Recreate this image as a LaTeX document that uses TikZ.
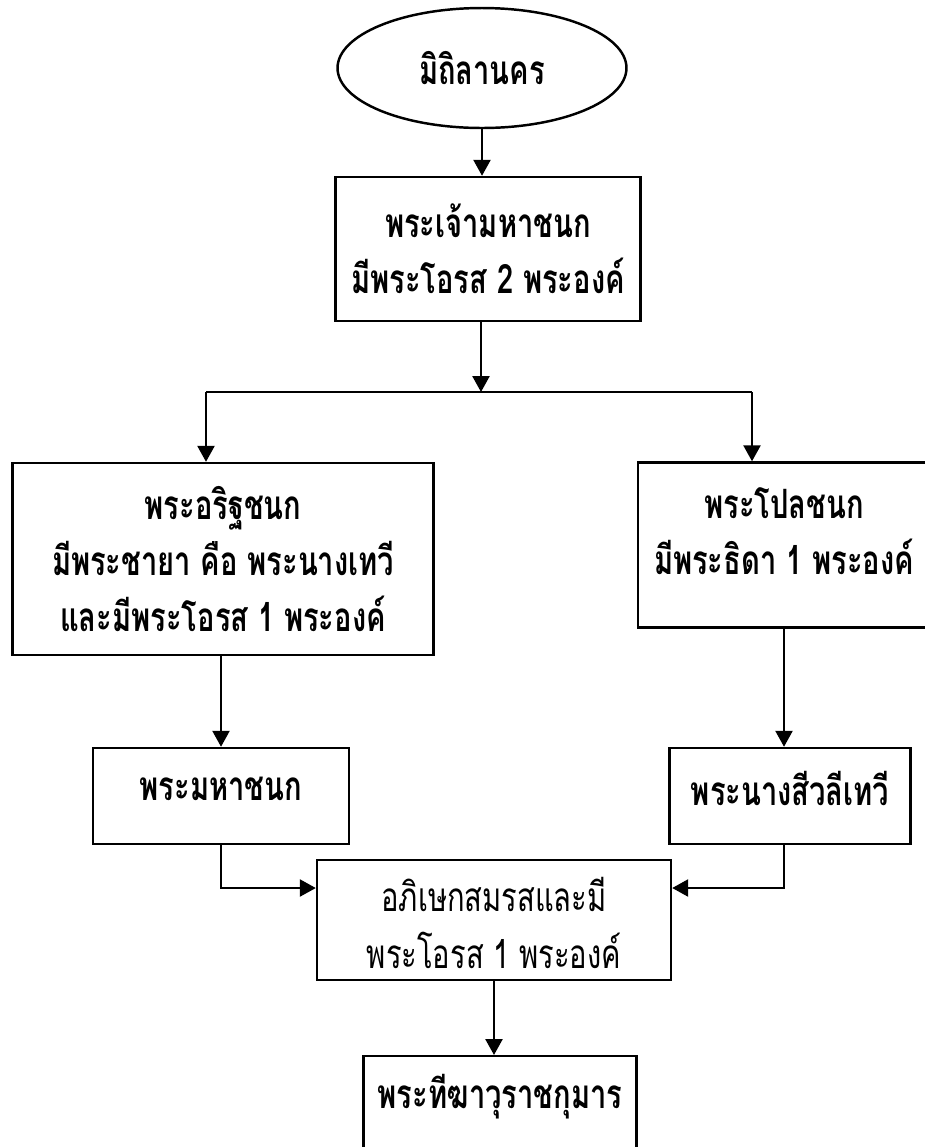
\documentclass[tikz,border=0pt]{standalone}
\usepackage{fontspec}
\setmainfont[Script=Thai,FakeStretch=0.72]{Loma}
\usetikzlibrary{shapes.geometric,arrows.meta}

\begin{document}
\begin{tikzpicture}[x=0.02cm,y=-0.02cm,
	box/.style = {rectangle,draw,line width=1.4pt,align=center,inner sep=0pt,font=\fontsize{23}{32}\selectfont},
	boldbox/.style = {box,font=\fontsize{23}{32}\selectfont\bfseries},
	oval/.style = {ellipse,draw,line width=1.4pt,inner sep=0pt,font=\fontsize{23}{32}\selectfont\bfseries},
	arr/.style = {line width=1.4pt,-{Triangle[length=0.32cm,width=0.34cm]}}]

\useasboundingbox (0,0) rectangle (925,1147);
\clip (0,0) rectangle (925,1147);

\node[oval, minimum width=5.78cm, minimum height=2.4cm] (mithila) at (482,68) {มิถิลานคร};
\node[boldbox, minimum width=6.1cm, minimum height=2.88cm] (janaka) at (488,249) {พระเจ้ามหาชนก\\มีพระโอรส 2 พระองค์};

\node[boldbox, minimum width=8.42cm, minimum height=3.84cm] (arittha) at (223,559) {พระอริฐชนก\\มีพระชายา คือ พระนางเทวี\\และมีพระโอรส 1 พระองค์};
\node[boldbox, minimum width=5.84cm, minimum height=3.3cm] (pola) at (784,545) {พระโปลชนก\\มีพระธิดา 1 พระองค์\rule[-0.55cm]{0pt}{0pt}};

\node[boldbox, minimum width=5.12cm, minimum height=1.92cm] (mahachanok) at (221,796) {พระมหาชนก\rule[-0.3cm]{0pt}{0pt}};
\node[boldbox, minimum width=4.82cm, minimum height=1.92cm] (sivali) at (790,796) {พระนางสีวลีเทวี\rule[-0.3cm]{0pt}{0pt}};

\node[box, minimum width=7.08cm, minimum height=2.4cm] (marriage) at (494,920) {\rule{0pt}{0.8cm}อภิเษกสมรสและมี\\พระโอรส 1 พระองค์};
\node[boldbox, anchor=north, minimum width=5.46cm, text height=1.04cm, text depth=2cm] (dighavu) at (500,1055) {พระทีฆาวุราชกุมาร};

\coordinate (split) at (481,392);
\coordinate (splitl) at (206,392);
\coordinate (splitr) at (752,392);

\draw[arr] (mithila.south) -- (mithila.south |- janaka.north);
\draw[arr] (split |- janaka.south) -- (split);
\draw[line width=1.4pt] (splitl) -- (splitr);
\draw[arr] (splitl) -- (splitl |- arittha.north);
\draw[arr] (splitr) -- (splitr |- pola.north);

\draw[arr] (mahachanok.north |- arittha.south) -- (mahachanok.north);
\draw[arr] (pola.south) -- (pola.south |- sivali.north);

\draw[arr] (mahachanok.south) |- ([yshift=0.64cm]marriage.west);
\draw[arr] (pola.south |- sivali.south) |- ([yshift=0.64cm]marriage.east);
\draw[arr] (marriage.south) -- (marriage.south |- dighavu.north);

\end{tikzpicture}
\end{document}
